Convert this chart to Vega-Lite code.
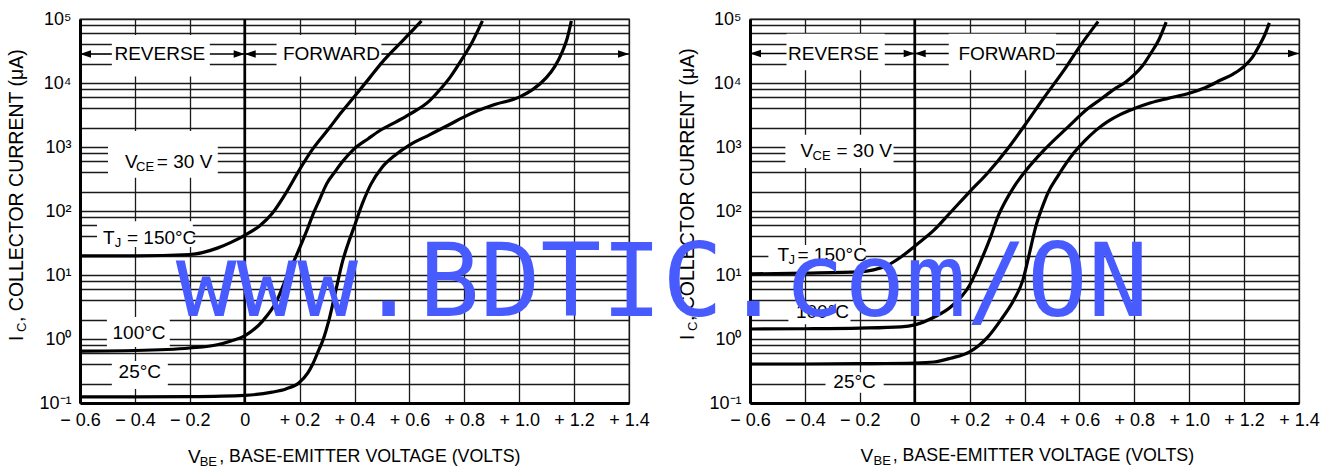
{
"$schema": "https://vega.github.io/schema/vega-lite/v6.json",
"padding": {"left": 6, "top": 9, "right": 0, "bottom": 0},
"bounds": "flush",
"spacing": 121,
"datasets": {
"curves": [
{"panel":"L","T":"150","V":-0.6,"I":19.95},{"panel":"L","T":"150","V":-0.4,"I":19.95},{"panel":"L","T":"150","V":-0.2,"I":20.9},{"panel":"L","T":"150","V":-0.1,"I":26.3},{"panel":"L","T":"150","V":-0.05,"I":32.4},{"panel":"L","T":"150","V":0,"I":41.7},{"panel":"L","T":"150","V":0.055,"I":58.9},{"panel":"L","T":"150","V":0.1,"I":91.2},{"panel":"L","T":"150","V":0.15,"I":190.5},{"panel":"L","T":"150","V":0.196,"I":416.9},{"panel":"L","T":"150","V":0.248,"I":933},{"panel":"L","T":"150","V":0.309,"I":1995},{"panel":"L","T":"150","V":0.35,"I":3388},{"panel":"L","T":"150","V":0.396,"I":5888},{"panel":"L","T":"150","V":0.455,"I":12023},{"panel":"L","T":"150","V":0.502,"I":21380},{"panel":"L","T":"150","V":0.55,"I":35481},{"panel":"L","T":"150","V":0.6,"I":58884},{"panel":"L","T":"150","V":0.644,"I":93325},
{"panel":"L","T":"100","V":-0.6,"I":0.646},{"panel":"L","T":"100","V":-0.4,"I":0.661},{"panel":"L","T":"100","V":-0.2,"I":0.724},{"panel":"L","T":"100","V":-0.1,"I":0.813},{"panel":"L","T":"100","V":-0.05,"I":0.933},{"panel":"L","T":"100","V":0,"I":1.122},{"panel":"L","T":"100","V":0.065,"I":1.905},{"panel":"L","T":"100","V":0.116,"I":3.89},{"panel":"L","T":"100","V":0.156,"I":10},{"panel":"L","T":"100","V":0.194,"I":22.9},{"panel":"L","T":"100","V":0.225,"I":47.9},{"panel":"L","T":"100","V":0.25,"I":91.2},{"panel":"L","T":"100","V":0.273,"I":151.4},{"panel":"L","T":"100","V":0.298,"I":263},{"panel":"L","T":"100","V":0.33,"I":417},{"panel":"L","T":"100","V":0.358,"I":603},{"panel":"L","T":"100","V":0.396,"I":912},{"panel":"L","T":"100","V":0.45,"I":1349},{"panel":"L","T":"100","V":0.49,"I":1778},{"panel":"L","T":"100","V":0.55,"I":2455},{"panel":"L","T":"100","V":0.6,"I":3236},{"panel":"L","T":"100","V":0.673,"I":5248},{"panel":"L","T":"100","V":0.71,"I":7762},{"panel":"L","T":"100","V":0.75,"I":12589},{"panel":"L","T":"100","V":0.794,"I":24547},{"panel":"L","T":"100","V":0.83,"I":44668},{"panel":"L","T":"100","V":0.866,"I":93325},
{"panel":"L","T":"25","V":-0.6,"I":0.1245},{"panel":"L","T":"25","V":-0.4,"I":0.1245},{"panel":"L","T":"25","V":-0.2,"I":0.1259},{"panel":"L","T":"25","V":0,"I":0.1318},{"panel":"L","T":"25","V":0.1,"I":0.1479},{"panel":"L","T":"25","V":0.15,"I":0.166},{"panel":"L","T":"25","V":0.196,"I":0.204},{"panel":"L","T":"25","V":0.23,"I":0.295},{"panel":"L","T":"25","V":0.248,"I":0.407},{"panel":"L","T":"25","V":0.27,"I":0.676},{"panel":"L","T":"25","V":0.284,"I":0.933},{"panel":"L","T":"25","V":0.309,"I":2.14},{"panel":"L","T":"25","V":0.334,"I":6.31},{"panel":"L","T":"25","V":0.357,"I":16.6},{"panel":"L","T":"25","V":0.375,"I":29.5},{"panel":"L","T":"25","V":0.396,"I":52.5},{"panel":"L","T":"25","V":0.43,"I":134.9},{"panel":"L","T":"25","V":0.46,"I":263},{"panel":"L","T":"25","V":0.5,"I":479},{"panel":"L","T":"25","V":0.55,"I":759},{"panel":"L","T":"25","V":0.6,"I":1072},{"panel":"L","T":"25","V":0.673,"I":1549},{"panel":"L","T":"25","V":0.75,"I":2291},{"panel":"L","T":"25","V":0.794,"I":2884},{"panel":"L","T":"25","V":0.85,"I":3715},{"panel":"L","T":"25","V":0.9,"I":4467},{"panel":"L","T":"25","V":1.0,"I":6026},{"panel":"L","T":"25","V":1.05,"I":7943},{"panel":"L","T":"25","V":1.098,"I":12023},{"panel":"L","T":"25","V":1.13,"I":18197},{"panel":"L","T":"25","V":1.156,"I":30200},{"panel":"L","T":"25","V":1.175,"I":50119},{"panel":"L","T":"25","V":1.19,"I":93325},
{"panel":"R","T":"150","V":-0.6,"I":10.4},{"panel":"R","T":"150","V":-0.4,"I":10.7},{"panel":"R","T":"150","V":-0.2,"I":11.2},{"panel":"R","T":"150","V":-0.15,"I":12.0},{"panel":"R","T":"150","V":-0.1,"I":14.1},{"panel":"R","T":"150","V":-0.05,"I":19.1},{"panel":"R","T":"150","V":0,"I":28.2},{"panel":"R","T":"150","V":0.07,"I":50.1},{"panel":"R","T":"150","V":0.131,"I":95.5},{"panel":"R","T":"150","V":0.2,"I":199.5},{"panel":"R","T":"150","V":0.265,"I":389},{"panel":"R","T":"150","V":0.34,"I":955},{"panel":"R","T":"150","V":0.401,"I":2188},{"panel":"R","T":"150","V":0.471,"I":5888},{"panel":"R","T":"150","V":0.544,"I":15849},{"panel":"R","T":"150","V":0.606,"I":39811},{"panel":"R","T":"150","V":0.668,"I":91201},
{"panel":"R","T":"100","V":-0.6,"I":1.432},{"panel":"R","T":"100","V":-0.4,"I":1.445},{"panel":"R","T":"100","V":-0.2,"I":1.479},{"panel":"R","T":"100","V":-0.05,"I":1.549},{"panel":"R","T":"100","V":0,"I":1.66},{"panel":"R","T":"100","V":0.07,"I":2.188},{"panel":"R","T":"100","V":0.131,"I":3.162},{"panel":"R","T":"100","V":0.2,"I":6.92},{"panel":"R","T":"100","V":0.241,"I":16.6},{"panel":"R","T":"100","V":0.277,"I":39.8},{"panel":"R","T":"100","V":0.303,"I":81.3},{"panel":"R","T":"100","V":0.33,"I":141},{"panel":"R","T":"100","V":0.361,"I":237},{"panel":"R","T":"100","V":0.401,"I":407},{"panel":"R","T":"100","V":0.471,"I":891},{"panel":"R","T":"100","V":0.558,"I":2042},{"panel":"R","T":"100","V":0.631,"I":3981},{"panel":"R","T":"100","V":0.679,"I":5623},{"panel":"R","T":"100","V":0.726,"I":7943},{"panel":"R","T":"100","V":0.77,"I":10471},{"panel":"R","T":"100","V":0.8,"I":13490},{"panel":"R","T":"100","V":0.83,"I":18621},{"panel":"R","T":"100","V":0.861,"I":29512},{"panel":"R","T":"100","V":0.89,"I":47863},{"panel":"R","T":"100","V":0.916,"I":89125},
{"panel":"R","T":"25","V":-0.6,"I":0.407},{"panel":"R","T":"25","V":-0.4,"I":0.407},{"panel":"R","T":"25","V":-0.2,"I":0.412},{"panel":"R","T":"25","V":0,"I":0.422},{"panel":"R","T":"25","V":0.07,"I":0.437},{"panel":"R","T":"25","V":0.131,"I":0.501},{"panel":"R","T":"25","V":0.2,"I":0.631},{"panel":"R","T":"25","V":0.266,"I":1.072},{"panel":"R","T":"25","V":0.314,"I":1.995},{"panel":"R","T":"25","V":0.361,"I":4.07},{"panel":"R","T":"25","V":0.394,"I":8.32},{"panel":"R","T":"25","V":0.417,"I":20.9},{"panel":"R","T":"25","V":0.44,"I":55},{"panel":"R","T":"25","V":0.47,"I":131.8},{"panel":"R","T":"25","V":0.485,"I":190.5},{"panel":"R","T":"25","V":0.522,"I":354.8},{"panel":"R","T":"25","V":0.58,"I":812.8},{"panel":"R","T":"25","V":0.62,"I":1259},{"panel":"R","T":"25","V":0.66,"I":1820},{"panel":"R","T":"25","V":0.704,"I":2512},{"panel":"R","T":"25","V":0.75,"I":3236},{"panel":"R","T":"25","V":0.8,"I":3981},{"panel":"R","T":"25","V":0.86,"I":4898},{"panel":"R","T":"25","V":0.923,"I":5754},{"panel":"R","T":"25","V":1.0,"I":6918},{"panel":"R","T":"25","V":1.06,"I":8511},{"panel":"R","T":"25","V":1.117,"I":11220},{"panel":"R","T":"25","V":1.16,"I":13804},{"panel":"R","T":"25","V":1.2,"I":18197},{"panel":"R","T":"25","V":1.23,"I":25119},{"panel":"R","T":"25","V":1.252,"I":36308},{"panel":"R","T":"25","V":1.275,"I":56234},{"panel":"R","T":"25","V":1.292,"I":87096}
],
"boxes": [
{"panel":"L","V1":-0.484,"V2":-0.127,"I1":56234,"I2":12589},
{"panel":"L","V1":0.116,"V2":0.498,"I1":56234,"I2":12589},
{"panel":"L","V1":-0.498,"V2":-0.098,"I1":1778,"I2":331},
{"panel":"L","V1":-0.538,"V2":-0.189,"I1":69.2,"I2":27.5},
{"panel":"L","V1":-0.502,"V2":-0.273,"I1":2.21,"I2":0.75},
{"panel":"L","V1":-0.484,"V2":-0.28,"I1":0.453,"I2":0.166},
{"panel":"R","V1":-0.467,"V2":-0.109,"I1":58884,"I2":15849},
{"panel":"R","V1":0.124,"V2":0.515,"I1":58884,"I2":15849},
{"panel":"R","V1":-0.471,"V2":-0.077,"I1":1549,"I2":468},
{"panel":"R","V1":-0.533,"V2":-0.179,"I1":29.5,"I2":14.5},
{"panel":"R","V1":-0.46,"V2":-0.234,"I1":3.8,"I2":1.7},
{"panel":"R","V1":-0.325,"V2":-0.113,"I1":0.302,"I2":0.1445}
],
"arrows": [
{"panel":"L","V1":-0.6,"V2":-0.484,"I":28380},{"panel":"L","V1":-0.127,"V2":0,"I":28380},{"panel":"L","V1":0,"V2":0.116,"I":28380},{"panel":"L","V1":0.498,"V2":1.4,"I":28380},
{"panel":"R","V1":-0.6,"V2":-0.467,"I":28840},{"panel":"R","V1":-0.109,"V2":0,"I":28840},{"panel":"R","V1":0,"V2":0.124,"I":28840},{"panel":"R","V1":0.515,"V2":1.4,"I":28840}
],
"heads": [
{"panel":"L","V":-0.6,"I":28380,"dir":"left"},{"panel":"L","V":0,"I":28380,"dir":"right"},{"panel":"L","V":0,"I":28380,"dir":"left"},{"panel":"L","V":1.4,"I":28380,"dir":"right"},
{"panel":"R","V":-0.6,"I":28840,"dir":"left"},{"panel":"R","V":0,"I":28840,"dir":"right"},{"panel":"R","V":0,"I":28840,"dir":"left"},{"panel":"R","V":1.4,"I":28840,"dir":"right"}
],
"texts": [
{"panel":"L","kind":"center","V":-0.309,"I":28380,"text":"REVERSE"},
{"panel":"L","kind":"center","V":0.316,"I":28380,"text":"FORWARD"},
{"panel":"L","kind":"main","V":-0.436,"I":583,"text":"V"},
{"panel":"L","kind":"sub","V":-0.396,"I":583,"text":"CE"},
{"panel":"L","kind":"main","V":-0.32,"I":583,"text":"= 30 V"},
{"panel":"L","kind":"main","V":-0.516,"I":37.8,"text":"T"},
{"panel":"L","kind":"sub","V":-0.473,"I":37.8,"text":"J"},
{"panel":"L","kind":"main","V":-0.429,"I":37.8,"text":"= 150°C"},
{"panel":"L","kind":"center","V":-0.385,"I":1.24,"text":"100°C"},
{"panel":"L","kind":"center","V":-0.382,"I":0.305,"text":"25°C"},
{"panel":"L","kind":"main","V":-0.207,"I":0.01445,"text":"V"},
{"panel":"L","kind":"sub","V":-0.164,"I":0.01445,"text":"BE"},
{"panel":"L","kind":"xt","V":-0.093,"I":0.01445,"text":", BASE-EMITTER VOLTAGE (VOLTS)"},
{"panel":"L","kind":"rot","V":-0.829,"I":0.931,"text":"I"},
{"panel":"L","kind":"rotsub","V":-0.829,"I":1.285,"text":"C"},
{"panel":"L","kind":"rot","V":-0.829,"I":1.845,"text":", COLLECTOR CURRENT (μA)"},
{"panel":"R","kind":"center","V":-0.296,"I":28840,"text":"REVERSE"},
{"panel":"R","kind":"center","V":0.336,"I":28840,"text":"FORWARD"},
{"panel":"R","kind":"main","V":-0.416,"I":871,"text":"V"},
{"panel":"R","kind":"sub","V":-0.372,"I":871,"text":"CE"},
{"panel":"R","kind":"main","V":-0.285,"I":871,"text":"= 30 V"},
{"panel":"R","kind":"main","V":-0.5,"I":20.4,"text":"T"},
{"panel":"R","kind":"sub","V":-0.46,"I":20.4,"text":"J"},
{"panel":"R","kind":"main","V":-0.427,"I":20.4,"text":"= 150°C"},
{"panel":"R","kind":"center","V":-0.336,"I":2.63,"text":"100°C"},
{"panel":"R","kind":"center","V":-0.219,"I":0.214,"text":"25°C"},
{"panel":"R","kind":"main","V":-0.197,"I":0.0148,"text":"V"},
{"panel":"R","kind":"sub","V":-0.15,"I":0.0148,"text":"BE"},
{"panel":"R","kind":"xt","V":-0.08,"I":0.0148,"text":", BASE-EMITTER VOLTAGE (VOLTS)"},
{"panel":"R","kind":"rot","V":-0.825,"I":0.964,"text":"I"},
{"panel":"R","kind":"rotsub","V":-0.825,"I":1.334,"text":"C"},
{"panel":"R","kind":"rot","V":-0.825,"I":1.905,"text":", COLLECTOR CURRENT (μA)"}
],
"watermark": [{"V":-0.92,"I":2.29,"text":"www.BDTIC.com/ON"}]
},
"hconcat": [
{
"width": 549, "height": 384,
"layer": [
{"data":{"name":"boxes"},"transform":[{"filter":"datum.panel==='L'"}],"mark":{"type":"rect","fill":"white"},
"encoding":{
"x":{"field":"V1","type":"quantitative","scale":{"domain":[-0.6,1.4],"nice":false,"zero":false},"axis":{"values":[-0.6,-0.4,-0.2,0,0.2,0.4,0.6,0.8,1,1.2,1.4],"title":null,"grid":true,"ticks":false,"labelFlush":false,"labelPadding":8,"labelExpr":"datum.value==0?'0':(datum.value>0?'+':'−')+' '+format(abs(datum.value),'.1f')"}},
"x2":{"field":"V2"},
"y":{"field":"I1","type":"quantitative","scale":{"type":"log","domain":[0.1,100000],"nice":false},"axis":{"values":[0.1,0.2,0.4,0.6,0.8,1,2,4,6,8,10,20,40,60,80,100,200,400,600,800,1000,2000,4000,6000,8000,10000,20000,40000,60000,80000,100000],"title":null,"grid":true,"ticks":false,"labelFlush":false,"labelOverlap":false,"labelPadding":9,"labelExpr":"datum.value==100000?'10⁵':datum.value==10000?'10⁴':datum.value==1000?'10³':datum.value==100?'10²':datum.value==10?'10¹':datum.value==1?'10⁰':datum.value==0.1?'10⁻¹':''"}},
"y2":{"field":"I2"}}},
{"data":{"values":[{}]},"mark":{"type":"rule","color":"#000","strokeWidth":2.6},"encoding":{"x":{"datum":0,"type":"quantitative"}}},
{"data":{"name":"arrows"},"transform":[{"filter":"datum.panel==='L'"}],"mark":{"type":"rule","color":"#000","strokeWidth":1.6},"encoding":{"x":{"field":"V1","type":"quantitative"},"x2":{"field":"V2"},"y":{"field":"I","type":"quantitative"}}},
{"data":{"name":"heads"},"transform":[{"filter":"datum.panel==='L'"}],"mark":{"type":"point","filled":true,"color":"#000","opacity":1,"size":484,"strokeWidth":0},"encoding":{"x":{"field":"V","type":"quantitative"},"y":{"field":"I","type":"quantitative"},"shape":{"field":"dir","type":"nominal","scale":{"domain":["left","right"],"range":["M 0 0 L 1 -0.34 L 1 0.34 Z","M 0 0 L -1 -0.34 L -1 0.34 Z"]},"legend":null}}},
{"data":{"name":"curves"},"transform":[{"filter":"datum.panel==='L'"}],"mark":{"type":"line","color":"#000","strokeWidth":3.2,"interpolate":"monotone"},"encoding":{"x":{"field":"V","type":"quantitative"},"y":{"field":"I","type":"quantitative"},"detail":{"field":"T"}}},
{"data":{"name":"texts"},"transform":[{"filter":"datum.panel==='L' && datum.kind==='center'"}],"mark":{"type":"text","align":"center","baseline":"middle","fontSize":19,"color":"#000"},"encoding":{"x":{"field":"V","type":"quantitative"},"y":{"field":"I","type":"quantitative"},"text":{"field":"text"}}},
{"data":{"name":"texts"},"transform":[{"filter":"datum.panel==='L' && datum.kind==='main'"}],"mark":{"type":"text","align":"left","baseline":"middle","fontSize":19,"color":"#000"},"encoding":{"x":{"field":"V","type":"quantitative"},"y":{"field":"I","type":"quantitative"},"text":{"field":"text"}}},
{"data":{"name":"texts"},"transform":[{"filter":"datum.panel==='L' && datum.kind==='xt'"}],"mark":{"type":"text","align":"left","baseline":"middle","fontSize":17.8,"color":"#000"},"encoding":{"x":{"field":"V","type":"quantitative"},"y":{"field":"I","type":"quantitative"},"text":{"field":"text"}}},
{"data":{"name":"texts"},"transform":[{"filter":"datum.panel==='L' && datum.kind==='sub'"}],"mark":{"type":"text","align":"left","baseline":"middle","fontSize":13,"dy":5,"color":"#000"},"encoding":{"x":{"field":"V","type":"quantitative"},"y":{"field":"I","type":"quantitative"},"text":{"field":"text"}}},
{"data":{"name":"texts"},"transform":[{"filter":"datum.panel==='L' && datum.kind==='rot'"}],"mark":{"type":"text","align":"left","baseline":"middle","angle":270,"fontSize":19.5,"color":"#000"},"encoding":{"x":{"field":"V","type":"quantitative"},"y":{"field":"I","type":"quantitative"},"text":{"field":"text"}}},
{"data":{"name":"texts"},"transform":[{"filter":"datum.panel==='L' && datum.kind==='rotsub'"}],"mark":{"type":"text","align":"left","baseline":"middle","angle":270,"fontSize":13,"dy":5,"color":"#000"},"encoding":{"x":{"field":"V","type":"quantitative"},"y":{"field":"I","type":"quantitative"},"text":{"field":"text"}}}
]
},
{
"width": 549, "height": 384,
"layer": [
{"data":{"name":"boxes"},"transform":[{"filter":"datum.panel==='R'"}],"mark":{"type":"rect","fill":"white"},
"encoding":{
"x":{"field":"V1","type":"quantitative","scale":{"domain":[-0.6,1.4],"nice":false,"zero":false},"axis":{"values":[-0.6,-0.4,-0.2,0,0.2,0.4,0.6,0.8,1,1.2,1.4],"title":null,"grid":true,"ticks":false,"labelFlush":false,"labelPadding":8,"labelExpr":"datum.value==0?'0':(datum.value>0?'+':'−')+' '+format(abs(datum.value),'.1f')"}},
"x2":{"field":"V2"},
"y":{"field":"I1","type":"quantitative","scale":{"type":"log","domain":[0.1,100000],"nice":false},"axis":{"values":[0.1,0.2,0.4,0.6,0.8,1,2,4,6,8,10,20,40,60,80,100,200,400,600,800,1000,2000,4000,6000,8000,10000,20000,40000,60000,80000,100000],"title":null,"grid":true,"ticks":false,"labelFlush":false,"labelOverlap":false,"labelPadding":9,"labelExpr":"datum.value==100000?'10⁵':datum.value==10000?'10⁴':datum.value==1000?'10³':datum.value==100?'10²':datum.value==10?'10¹':datum.value==1?'10⁰':datum.value==0.1?'10⁻¹':''"}},
"y2":{"field":"I2"}}},
{"data":{"values":[{}]},"mark":{"type":"rule","color":"#000","strokeWidth":2.6},"encoding":{"x":{"datum":0,"type":"quantitative"}}},
{"data":{"name":"arrows"},"transform":[{"filter":"datum.panel==='R'"}],"mark":{"type":"rule","color":"#000","strokeWidth":1.6},"encoding":{"x":{"field":"V1","type":"quantitative"},"x2":{"field":"V2"},"y":{"field":"I","type":"quantitative"}}},
{"data":{"name":"heads"},"transform":[{"filter":"datum.panel==='R'"}],"mark":{"type":"point","filled":true,"color":"#000","opacity":1,"size":484,"strokeWidth":0},"encoding":{"x":{"field":"V","type":"quantitative"},"y":{"field":"I","type":"quantitative"},"shape":{"field":"dir","type":"nominal","scale":{"domain":["left","right"],"range":["M 0 0 L 1 -0.34 L 1 0.34 Z","M 0 0 L -1 -0.34 L -1 0.34 Z"]},"legend":null}}},
{"data":{"name":"curves"},"transform":[{"filter":"datum.panel==='R'"}],"mark":{"type":"line","color":"#000","strokeWidth":3.2,"interpolate":"monotone"},"encoding":{"x":{"field":"V","type":"quantitative"},"y":{"field":"I","type":"quantitative"},"detail":{"field":"T"}}},
{"data":{"name":"texts"},"transform":[{"filter":"datum.panel==='R' && datum.kind==='center'"}],"mark":{"type":"text","align":"center","baseline":"middle","fontSize":19,"color":"#000"},"encoding":{"x":{"field":"V","type":"quantitative"},"y":{"field":"I","type":"quantitative"},"text":{"field":"text"}}},
{"data":{"name":"texts"},"transform":[{"filter":"datum.panel==='R' && datum.kind==='main'"}],"mark":{"type":"text","align":"left","baseline":"middle","fontSize":19,"color":"#000"},"encoding":{"x":{"field":"V","type":"quantitative"},"y":{"field":"I","type":"quantitative"},"text":{"field":"text"}}},
{"data":{"name":"texts"},"transform":[{"filter":"datum.panel==='R' && datum.kind==='xt'"}],"mark":{"type":"text","align":"left","baseline":"middle","fontSize":17.8,"color":"#000"},"encoding":{"x":{"field":"V","type":"quantitative"},"y":{"field":"I","type":"quantitative"},"text":{"field":"text"}}},
{"data":{"name":"texts"},"transform":[{"filter":"datum.panel==='R' && datum.kind==='sub'"}],"mark":{"type":"text","align":"left","baseline":"middle","fontSize":13,"dy":5,"color":"#000"},"encoding":{"x":{"field":"V","type":"quantitative"},"y":{"field":"I","type":"quantitative"},"text":{"field":"text"}}},
{"data":{"name":"texts"},"transform":[{"filter":"datum.panel==='R' && datum.kind==='rot'"}],"mark":{"type":"text","align":"left","baseline":"middle","angle":270,"fontSize":19.5,"color":"#000"},"encoding":{"x":{"field":"V","type":"quantitative"},"y":{"field":"I","type":"quantitative"},"text":{"field":"text"}}},
{"data":{"name":"texts"},"transform":[{"filter":"datum.panel==='R' && datum.kind==='rotsub'"}],"mark":{"type":"text","align":"left","baseline":"middle","angle":270,"fontSize":13,"dy":5,"color":"#000"},"encoding":{"x":{"field":"V","type":"quantitative"},"y":{"field":"I","type":"quantitative"},"text":{"field":"text"}}},
{"data":{"name":"watermark"},"mark":{"type":"text","align":"center","baseline":"alphabetic","font":"DejaVu Sans Mono","fontSize":101,"color":"#475bff"},"encoding":{"x":{"field":"V","type":"quantitative"},"y":{"field":"I","type":"quantitative"},"text":{"field":"text"}}}
]
}
],
"config": {
"font": "Liberation Sans Narrow, Liberation Sans, Arial, sans-serif",
"view": {"stroke": "#333", "strokeWidth": 1.3},
"axis": {"gridColor": "#1a1a1a", "gridWidth": 1.3, "gridOpacity": 1, "domainColor": "#000", "domainWidth": 3, "labelColor": "#000", "labelFontSize": 18, "labelFont": "Liberation Sans Narrow, Liberation Sans, Arial, sans-serif"}
}
}
